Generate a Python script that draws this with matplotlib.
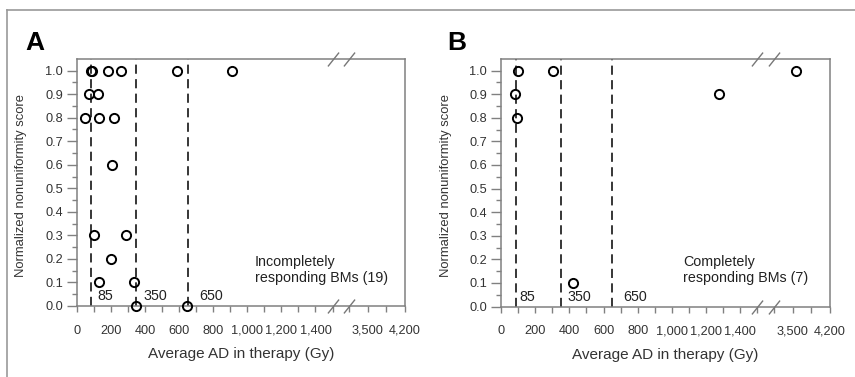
import matplotlib
matplotlib.use("Agg")
import matplotlib.pyplot as plt
import matplotlib.transforms as mtransforms
from matplotlib.lines import Line2D
import numpy as np

plt.rcParams['font.family'] = ['Liberation Sans', 'DejaVu Sans']

# panel A: incompletely responding BMs
a_dose = [84, 90, 185, 258, 586, 913, 72, 127, 49, 131, 221, 209, 103, 289, 201, 131, 336, 348, 647]
a_score = [1.0, 1.0, 1.0, 1.0, 1.0, 1.0, 0.9, 0.9, 0.8, 0.8, 0.8, 0.6, 0.3, 0.3, 0.2, 0.1, 0.1, 0.0, 0.0]

# panel B: completely responding BMs
b_dose = [101, 307, 3560, 82, 1274, 96, 420]
b_score = [1.0, 1.0, 1.0, 0.9, 0.9, 0.8, 0.1]

thresholds = [85, 350, 650]
xticks_major = [0, 200, 400, 600, 800, 1000, 1200, 1400, 3500, 4200]
xticks_minor = [100, 300, 500, 700, 900, 1100, 1300, 1500, 3150, 3850]
yticks_major = np.round(np.arange(0, 1.01, 0.1), 1)
yticks_minor = np.round(np.arange(0.05, 1.0, 0.1), 2)
panel_text = ["Incompletely\nresponding BMs (19)", "Completely\nresponding BMs (7)"]


# broken x axis: 0-1500 linear, squeezed gap, 3150-4200 compressed
def fwd(x):
    x = np.asarray(x, float)
    return np.where(x <= 1500, x,
                    np.where(x <= 3150, 1500 + (x - 1500) * (99 / 1650),
                             1599 + (x - 3150) * 0.3105))


def inv(p):
    p = np.asarray(p, float)
    return np.where(p <= 1500, p,
                    np.where(p <= 1599, 1500 + (p - 1500) * 1650 / 99,
                             3150 + (p - 1599) / 0.3105))


fig = plt.figure(figsize=(8.55, 3.77), dpi=100)

# outer frame (top and left only)
fig.add_artist(Line2D([7 / 855, 1], [1 - 10 / 377, 1 - 10 / 377], color='#999999', lw=1.2))
fig.add_artist(Line2D([7 / 855, 7 / 855], [0, 1 - 10 / 377], color='#999999', lw=1.2))

grey = '#808080'
axA = fig.add_axes([76.7 / 855, 71 / 377, 328.3 / 855, 246.7 / 377])
axB = fig.add_axes([501 / 855, 70.5 / 377, 329 / 855, 247.2 / 377])

label_dx = [[6, 7, 12], [4, 7, 11]]

for i, (ax, xs, ys, letter) in enumerate([(axA, a_dose, a_score, 'A'), (axB, b_dose, b_score, 'B')]):
    ax.set_xscale('function', functions=(fwd, inv))
    ax.set_xlim(0, 4200)
    ax.set_ylim(0, 1.048)

    for t, dx in zip(thresholds, label_dx[i]):
        ax.plot([t, t], [0, 1.048], color='black', lw=1.1, ls=(0, (6, 3.5)))
        tr = mtransforms.offset_copy(ax.transData, fig=fig, x=dx, y=0, units='dots')
        ax.text(t, 0.025, str(t), transform=tr, fontsize=10.3, color='#222222', va='baseline')

    ax.plot(xs, ys, 'o', mfc='none', mec='black', ms=6.6, mew=1.4, clip_on=False, zorder=5)

    ax.set_xticks(xticks_major)
    ax.set_xticklabels([f"{v:,}" for v in xticks_major])
    ax.set_xticks(xticks_minor, minor=True)
    ax.set_yticks(yticks_major)
    ax.set_yticklabels([f"{v:.1f}" for v in yticks_major])
    ax.set_yticks(yticks_minor, minor=True)

    ax.tick_params(axis='x', which='both', length=4.5, width=1, color=grey, direction='out',
                   pad=9, labelsize=9.2, labelcolor='#333333')
    ax.tick_params(axis='y', which='major', length=7, width=1, color=grey,
                   pad=3, labelsize=9.2, labelcolor='#333333')
    ax.tick_params(axis='y', which='minor', length=3.5, width=1, color=grey)
    for s in ax.spines.values():
        s.set_color(grey)
        s.set_linewidth(1.1)

    ax.set_xlabel("Average AD in therapy (Gy)", fontsize=11, color='#333333')
    ax.xaxis.set_label_coords(0.5, -0.168)
    ax.set_ylabel("Normalized nonuniformity score", fontsize=9.4, color='#333333')
    ax.yaxis.set_label_coords(-0.15, 0.49)

    # break marks on top and bottom spines
    for yb in [0, 1.048]:
        ax.plot([1500, 3150], [yb, yb], ls='none', marker=[(-0.8, -1), (0.8, 1)],
                ms=10, mec='#777777', mew=1.0, clip_on=False, zorder=6)

    ax.text(0.543 if i == 0 else 0.553, 0.207, panel_text[i], transform=ax.transAxes,
            fontsize=10.3, color='#222222', va='top', ha='left', linespacing=1.15)

fig.text(25 / 855, 1 - 50 / 377, 'A', fontsize=19, fontweight='bold', va='baseline')
fig.text(447 / 855, 1 - 50 / 377, 'B', fontsize=19, fontweight='bold', va='baseline')

fig.savefig('out.png', dpi=100)
